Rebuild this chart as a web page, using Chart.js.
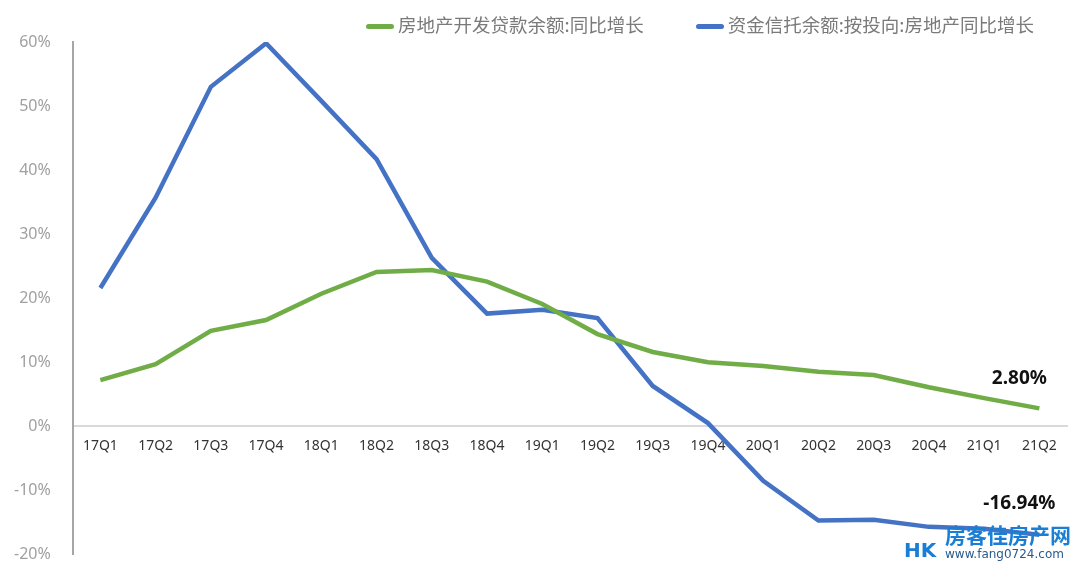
<!DOCTYPE html>
<html>
<head>
<meta charset="utf-8">
<script src="https://cdn.jsdelivr.net/npm/chart.js@4"></script>
<style>
  html, body { margin: 0; padding: 0; background: #fff; overflow: hidden; }
  #wrap { position: relative; width: 1080px; height: 571px; overflow: hidden; }
  #legend { position: absolute; top: 11px; left: 366px; font-family: "Noto Sans CJK SC", sans-serif; font-size: 18.5px; color: #7a7a7a; white-space: nowrap; }
  #legend .item { display: inline-block; margin-right: 52px; }
  #legend .sw { display: inline-block; width: 28px; height: 5px; border-radius: 3px; vertical-align: middle; margin-right: 4px; }
  #mark { position: absolute; left: 900px; top: 524px; font-family: "Noto Sans CJK SC", sans-serif; color: #1a7fd4; line-height: 1; white-space: nowrap; }
  #mark .big { font-size: 21px; font-weight: bold; margin-left: 45px; }
  #mark .small { font-size: 12px; color: #2a5a8c; margin-left: 45px; margin-top: 3px; font-family: "DejaVu Sans", sans-serif; }
  #mark .hk { position: absolute; left: 4px; top: 16px; font-size: 20px; font-weight: bold; font-family: "DejaVu Sans", sans-serif; }
</style>
</head>
<body>
<div id="wrap">
  <canvas id="chart" width="1080" height="578"></canvas>
  <div id="legend"></div>
  <div id="mark"><span class="hk">HK</span><div class="big">房客佳房产网</div><div class="small">www.fang0724.com</div></div>
</div>
<script>
const quarters = ['17Q1','17Q2','17Q3','17Q4','18Q1','18Q2','18Q3','18Q4','19Q1','19Q2','19Q3','19Q4','20Q1','20Q2','20Q3','20Q4','21Q1','21Q2'];
const devLoanGrowth = [7.2, 9.7, 14.9, 16.6, 20.7, 24.1, 24.4, 22.6, 19.1, 14.4, 11.6, 10.0, 9.4, 8.5, 8.0, 6.1, 4.4, 2.8];
const trustGrowth = [21.6, 35.7, 53.0, 59.8, 50.8, 41.7, 26.3, 17.6, 18.2, 16.9, 6.3, 0.5, -8.5, -14.7, -14.6, -15.7, -16.0, -16.94];
const seriesNames = ['房地产开发贷款余额:同比增长', '资金信托余额:按投向:房地产同比增长'];
const seriesColors = ['#70AD47', '#4472C4'];
const endLabels = ['2.80%', '-16.94%'];

// last-point value labels
const endLabelPlugin = {
  id: 'endLabels',
  afterDatasetsDraw(chart) {
    const ctx = chart.ctx;
    ctx.save();
    ctx.font = 'bold 19px "Noto Sans", sans-serif';
    ctx.fillStyle = '#111';
    ctx.textAlign = 'center';
    chart.data.datasets.forEach((ds, i) => {
      const pts = chart.getDatasetMeta(i).data;
      const p = pts[pts.length - 1];
      ctx.fillText(endLabels[i], p.x - 20, p.y - (i === 0 ? 24 : 26));
    });
    ctx.restore();
  }
};

const chart = new Chart(document.getElementById('chart').getContext('2d'), {
  type: 'line',
  data: {
    labels: quarters,
    datasets: seriesNames.map((name, i) => ({
      label: name,
      data: i === 0 ? devLoanGrowth : trustGrowth,
      borderColor: seriesColors[i], backgroundColor: seriesColors[i],
      borderWidth: 4.5, pointRadius: 0, tension: 0
    }))
  },
  options: {
    responsive: false,
    animation: false,
    layout: { padding: { left: 0, right: 13, top: 42, bottom: 0 } },
    plugins: { legend: { display: false }, tooltip: { enabled: false } },
    scales: {
      x: {
        position: { y: 0 },
        offset: true,
        grid: { display: false, offset: true },
        border: { color: '#d9d9d9', width: 2 },
        ticks: { color: '#333', font: { size: 14, family: '"Noto Sans", sans-serif' }, maxRotation: 0, padding: 3 }
      },
      y: {
        min: -20, max: 60,
        grid: { display: false },
        border: { color: '#a6a6a6', width: 2 },
        ticks: { stepSize: 10, color: '#a0a0a0', padding: 14, font: { size: 16, family: '"Noto Sans", sans-serif' }, callback: v => v + '%' }
      }
    }
  },
  plugins: [endLabelPlugin]
});

// HTML legend built from the datasets
document.getElementById('legend').innerHTML = chart.data.datasets.map(ds =>
  `<span class="item"><span class="sw" style="background:${ds.borderColor}"></span>${ds.label}</span>`
).join('');
</script>
</body>
</html>
